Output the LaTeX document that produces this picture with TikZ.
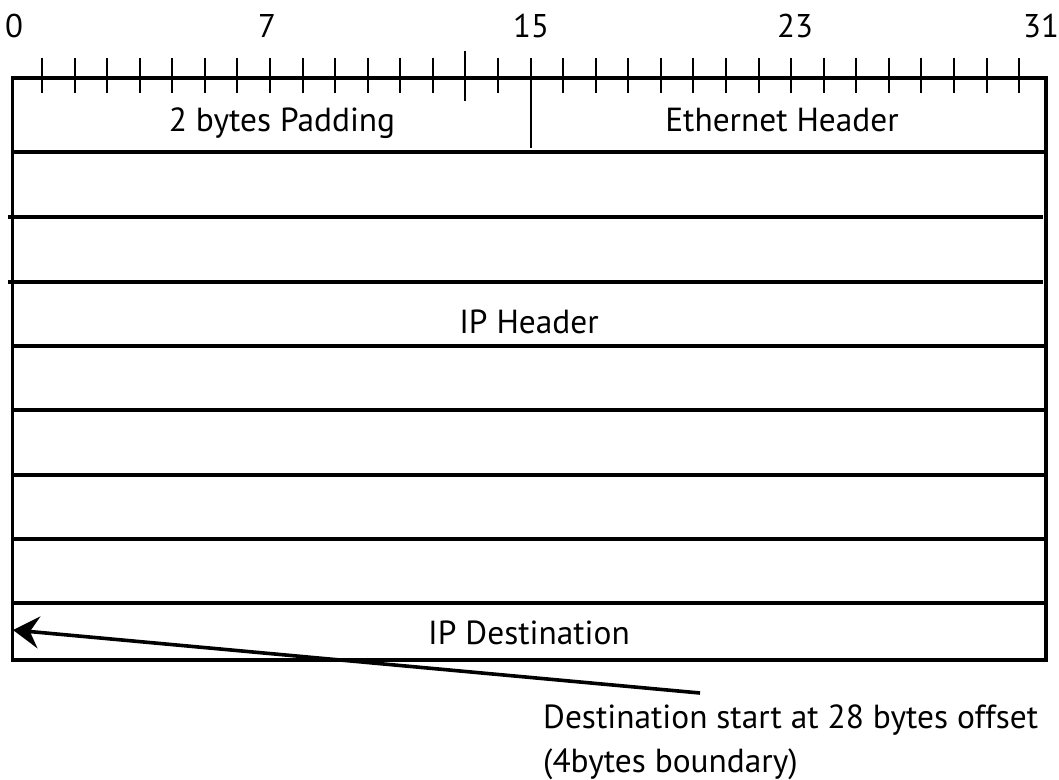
\documentclass[tikz,border=0pt]{standalone}
\usepackage{fontspec}
\setmainfont{PT Sans}
\usetikzlibrary{arrows.meta}
\begin{document}
\begin{tikzpicture}[x=1bp,y=-1bp,
  frame/.style={line width=3.6bp,line cap=rect},
  rowline/.style={line width=3.6bp},
  tick/.style={line width=2bp},
  bitlabel/.style={font=\fontsize{33}{40}\selectfont,inner sep=0pt,anchor=base},
  fieldlabel/.style={font=\fontsize{33.5}{40}\selectfont,inner sep=0pt,anchor=base},
  note/.style={font=\fontsize{33.5}{40}\selectfont,inner sep=0pt,anchor=base west},
  pointer/.style={line width=3.6bp,-{Stealth[length=26bp,width=32bp,inset=9bp]}}]
\useasboundingbox (0,0) rectangle (1059,780);

% bit ruler ticks
\foreach \k in {1,...,31}{
  \pgfmathsetmacro{\tx}{42+(\k-1)*32.57}
  \draw[tick] (\tx,58) -- (\tx,93);
}
\draw[tick] (465.4,51) -- (465.4,101);

% bit numbers
\node[bitlabel] (b0)  at (14,38)   {0};
\node[bitlabel] (b7)  at (267,38)  {7};
\node[bitlabel] (b15) at (531,38)  {15};
\node[bitlabel] (b23) at (795,38)  {23};
\node[bitlabel] (b31) at (1041,38) {31};

% outer frame
\draw[frame] (12.5,78) rectangle (1046,660);

% row separators
\draw[rowline] (12.5,152) -- (1046,152);
\draw[rowline] (8,217) -- (1043,217);
\draw[rowline] (8,282) -- (1043,282);
\draw[rowline] (12.5,346) -- (1046,346);
\draw[rowline] (12.5,410) -- (1046,410);
\draw[rowline] (12.5,475) -- (1046,475);
\draw[rowline] (12.5,539) -- (1046,539);
\draw[rowline] (12.5,603) -- (1046,603);

% split of the first row
\draw[tick] (530.6,58) -- (530.6,148);

% field names
\node[fieldlabel] (pad)  at (282,131) {2 bytes Padding};
\node[fieldlabel] (eth)  at (782,131) {Ethernet Header};
\node[fieldlabel] (iph)  at (529,333) {IP Header};
\node[fieldlabel] (ipd)  at (529,644) {IP Destination};

% annotation and pointer
\node[note] (n1) at (543,728) {Destination start at 28 bytes offset};
\node[note] (n2) at (543,772) {(4bytes boundary)};
\coordinate (tail) at (700,693);
\coordinate (tip) at (13,630);
\draw[pointer] (tail) -- (tip);
\end{tikzpicture}
\end{document}
